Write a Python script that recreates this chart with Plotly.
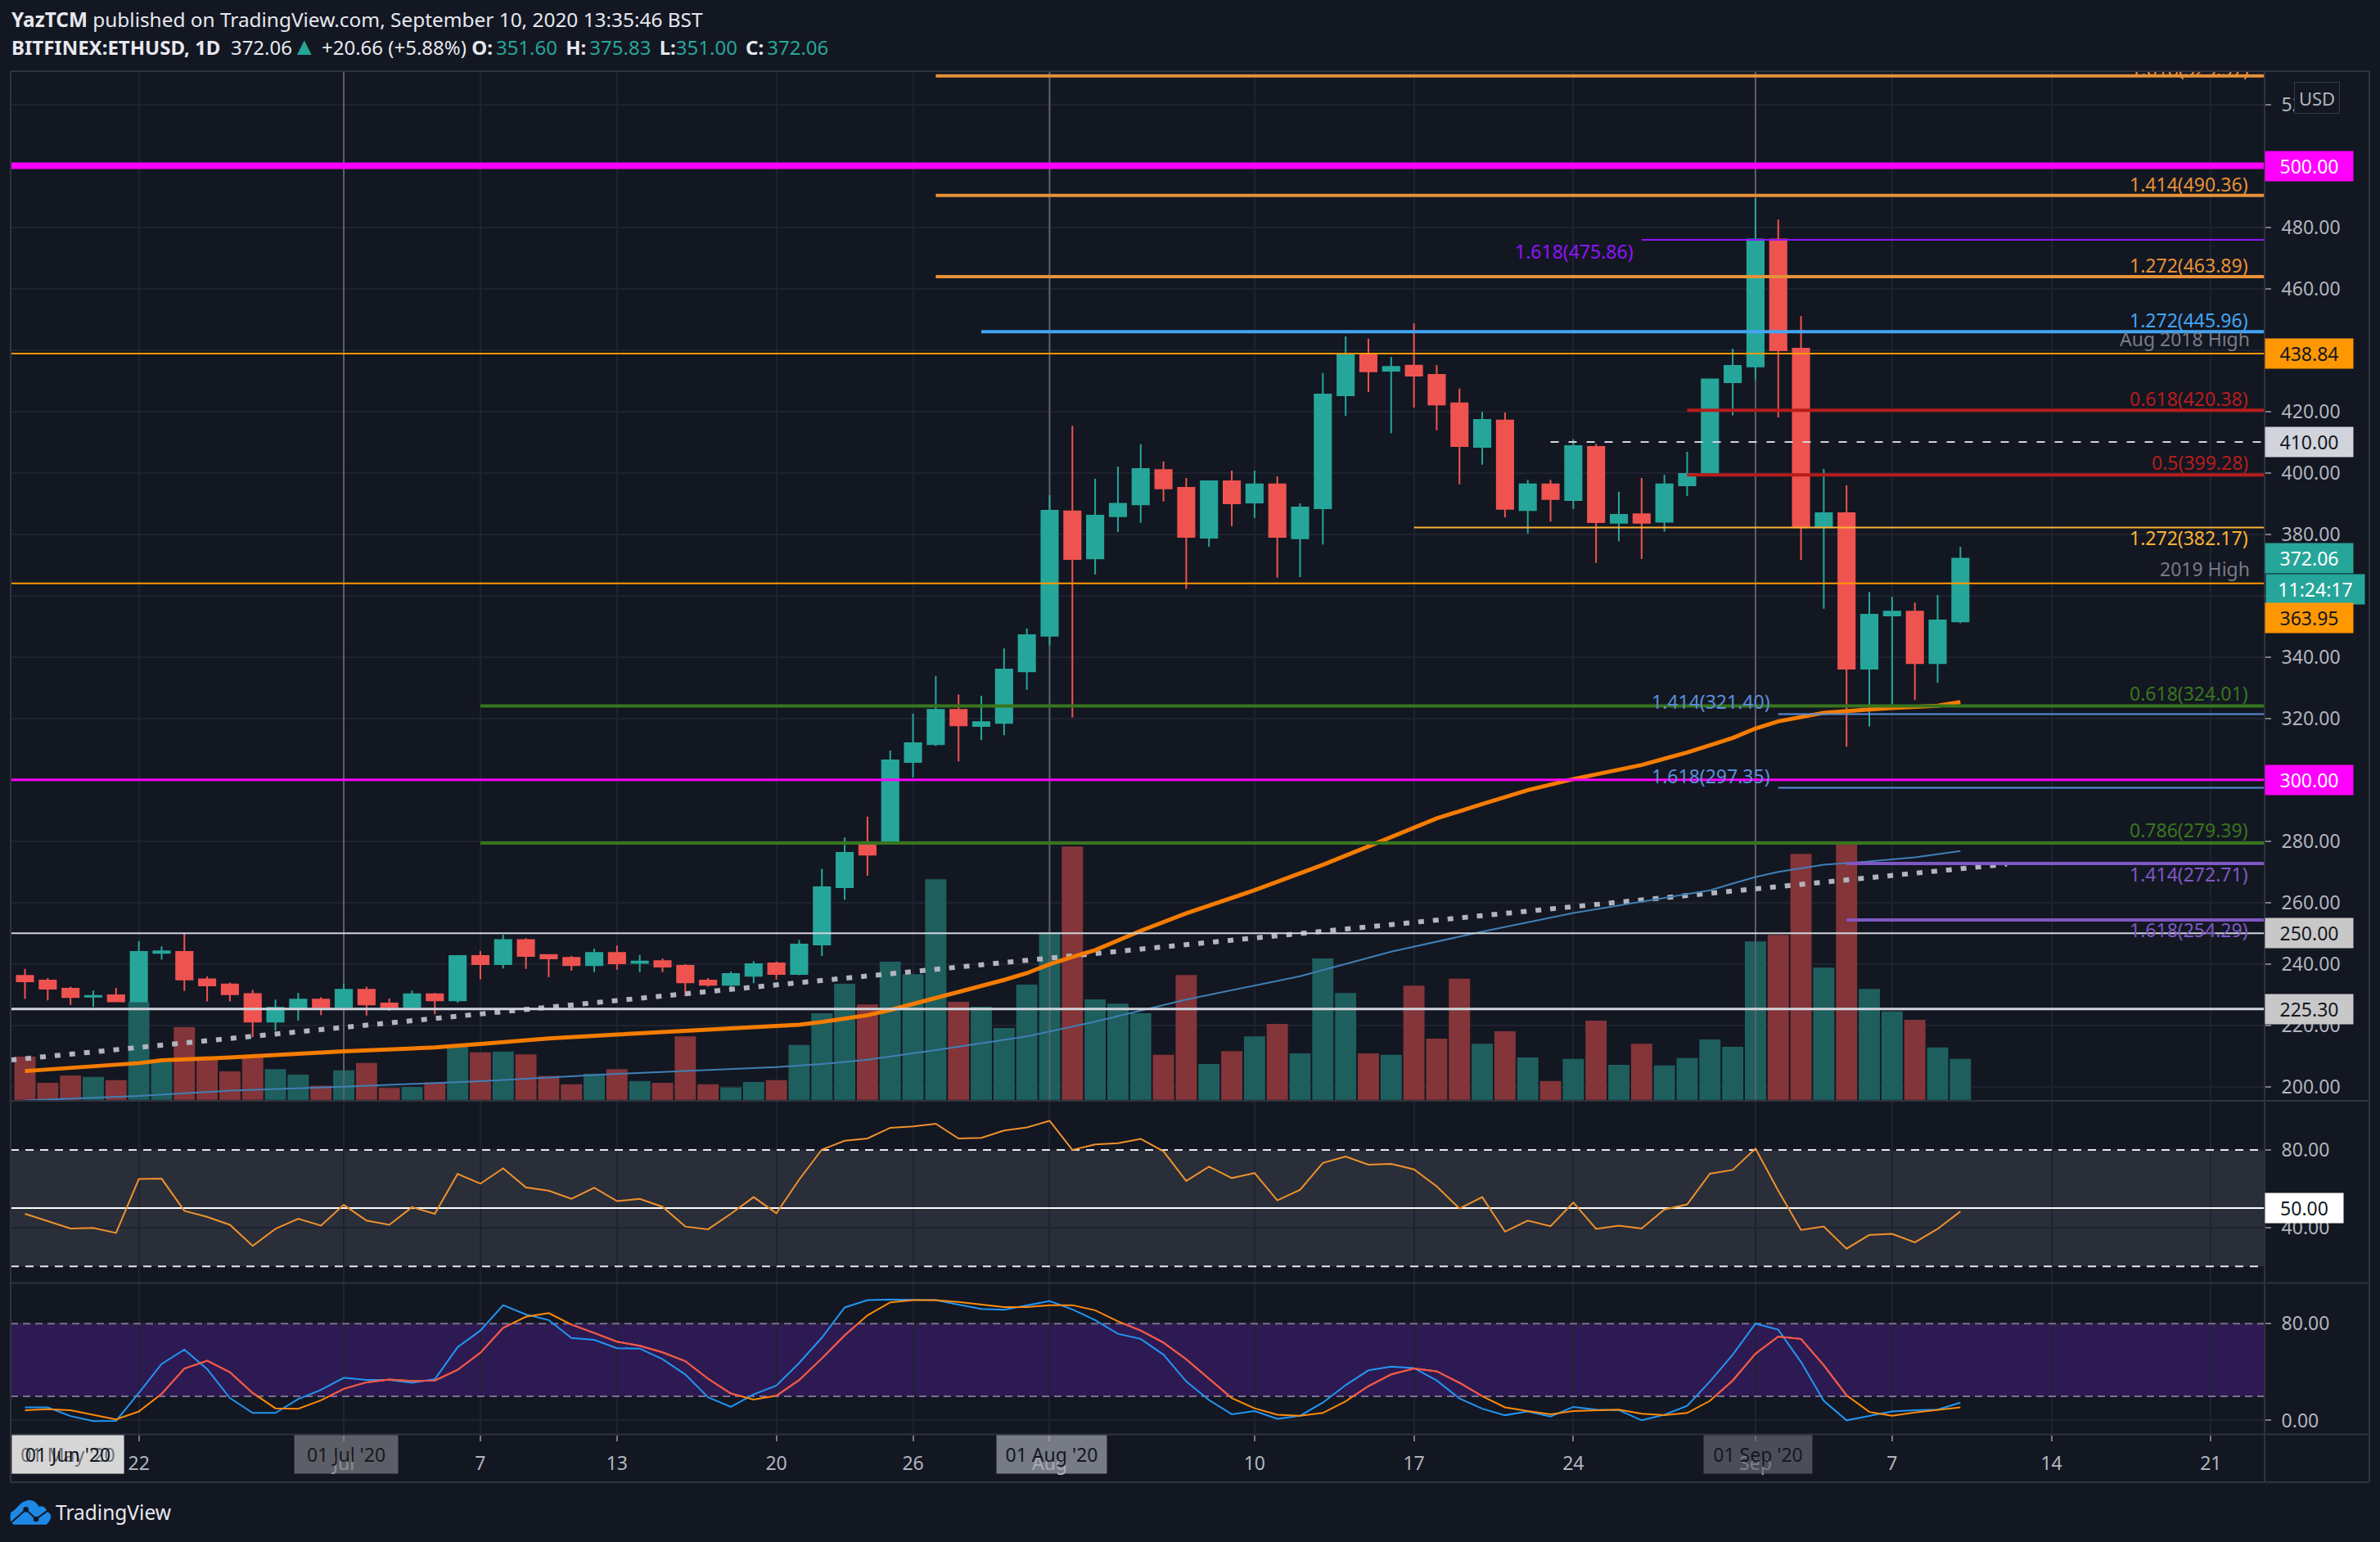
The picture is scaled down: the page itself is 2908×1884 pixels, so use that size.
import numpy as np
import pandas as pd
import plotly.graph_objects as go

W, H = 2908, 1884

# ---------- data ----------
dates = pd.date_range("2020-06-17", periods=86).strftime("%Y-%m-%d").tolist()
opens = [236.1,234.6,231.9,229.3,229.8,227.8,243.6,243.9,235.0,233.3,230.2,221.2,225.4,228.4,
 226.0,231.6,227.1,226.0,230.1,228.1,242.6,239.9,247.8,242.9,242.0,239.6,243.6,240.3,240.9,239.4,234.6,233.2,236.1,240.2,236.7,246.3,265.0,279.5,280.0,305.8,311.6,322.8,317.5,318.5,335.3,
 346.9,387.4,372.1,385.8,389.7,400.9,395.1,378.8,397.2,390.3,396.2,378.6,388.4,425.2,438.6,433.2,434.9,431.9,422.6,408.4,417.0,387.8,396.2,391.1,408.4,383.7,386.5,384.0,395.9,400.0,429.5,
 434.6,476.0,440.4,382.2,386.8,336.2,353.5,354.8,338.0,351.6]
highs = [238.4,235.4,232.6,231.3,232.2,247.4,245.7,250.2,235.9,233.9,231.5,228.4,230.5,229.2,
 233.6,232.6,228.7,231.3,230.5,242.9,244.2,249.5,248.4,243.0,242.6,245.0,246.0,242.9,241.8,239.9,235.4,237.5,240.9,240.8,247.8,271.0,281.2,288.0,309.5,321.5,333.8,327.8,327.4,342.8,349.3,
 392.7,415.3,398.0,402.0,409.3,403.7,398.3,397.2,400.7,400.7,398.8,390.0,432.5,444.4,443.7,437.7,448.7,435.1,427.4,419.9,419.6,397.7,397.7,410.9,409.4,393.8,398.3,399.3,406.8,430.4,440.4,
 489.4,482.5,451.0,401.2,395.9,361.2,359.6,357.7,360.2,375.83]
lows = [228.6,228.1,226.6,226.0,227.5,227.5,241.4,231.2,227.8,227.8,216.1,218.2,221.5,223.3,
 225.7,223.2,224.7,225.0,223.6,227.4,235.0,238.5,238.4,235.7,237.8,237.3,238.1,237.3,237.3,229.5,232.6,232.3,233.7,234.9,236.3,242.6,260.9,268.7,280.0,300.7,311.0,306.0,312.9,314.5,329.3,
 343.8,320.3,366.9,380.7,383.7,390.6,362.2,375.9,382.6,385.2,365.8,366.0,376.6,418.5,426.3,412.9,421.2,413.8,396.2,402.6,385.5,380.2,384.1,388.2,370.6,377.7,371.9,380.8,392.4,400.0,418.7,
 430.4,418.0,371.6,355.7,310.8,317.3,324.5,326.0,331.6,351.0]
closes = [234.3,231.9,229.2,229.6,227.8,243.9,244.1,234.9,233.0,230.1,221.2,225.7,228.4,226.0,
 231.6,226.8,226.0,230.1,228.1,242.6,239.9,247.8,242.6,241.8,239.6,243.6,240.2,240.8,239.1,234.0,233.2,236.7,239.9,236.7,246.3,265.0,276.2,275.6,306.3,311.9,322.8,317.7,318.8,335.9,347.1,
 387.6,371.9,386.0,389.9,401.2,394.9,379.1,397.2,390.0,396.2,379.1,388.7,425.5,438.6,433.0,434.5,431.6,422.2,408.7,417.2,388.2,396.2,391.4,408.7,383.9,386.3,383.7,396.2,399.6,430.4,434.8,
 476.0,439.9,382.2,386.8,336.2,353.8,354.8,338.0,351.9,372.06]
volumes = [94,37,53,50,43,213,82,158,91,62,97,67,55,31,64,80,26,28,38,115,103,105,99,52,34,57,67,41,37,138,34,27,39,43,119,188,
 252,207,300,273,479,213,202,156,250,364,550,218,209,188,98,271,78,106,138,165,101,307,232,101,98,248,133,263,122,149,92,41,89,172,76,122,75,91,131,115,
 344,358,534,287,557,241,192,174,114,89]
rsi = [47.1,43.3,39.5,39.8,37.2,65.0,65.2,48.6,45.5,41.4,30.5,39.3,44.5,41.0,51.7,43.6,41.4,50.5,47.1,67.6,62.6,70.5,60.7,59.0,54.8,60.5,53.6,54.8,50.7,40.5,39.1,47.1,55.7,47.4,64.7,80.2,84.7,85.9,91.4,92.1,93.5,85.9,86.2,90.0,91.6,
 95.0,80.0,82.8,83.5,85.7,79.3,64.0,71.4,65.5,68.1,54.0,59.5,73.3,76.6,72.4,72.8,70.0,61.2,49.8,55.7,37.9,43.6,40.7,52.9,39.3,41.0,39.5,49.3,51.9,67.8,69.7,
 80.7,59.0,38.8,40.5,29.1,36.2,36.7,32.4,39.3,48.3]
stoch_k = [10.8,10.8,3.6,-0.6,-0.3,22.7,46.7,58.6,42.5,18.5,6.2,6.2,17.7,25.3,35.3,33.4,33.4,31.1,34.1,60.5,74.3,95.3,87.6,83.0,68.1,66.6,59.7,59.4,50.6,38.0,19.2,11.2,21.5,28.8,47.5,68.5,93.4,99.5,99.9,99.5,99.5,95.7,92.2,91.5,94.9,
 98.7,91.8,83.0,71.6,67.4,54.4,32.2,16.9,5.1,7.8,1.3,3.9,14.7,29.2,41.4,44.5,43.3,33.0,18.1,9.7,4.3,7.4,3.2,11.2,8.9,8.5,0.1,4.7,12.0,32.2,54.4,
 80.0,75.0,48.3,16.2,0.1,3.9,7.4,8.5,8.9,14.7]
stoch_d = [8.5,9.3,8.5,4.7,0.9,7.4,21.9,42.9,49.4,39.9,22.7,10.0,9.7,16.6,26.1,31.5,33.8,32.6,33.0,41.8,55.9,76.6,85.7,88.8,79.2,72.3,65.1,61.7,56.3,49.0,34.5,22.3,17.3,20.4,33.4,51.3,70.4,86.9,97.6,99.5,99.5,98.0,96.0,93.7,93.7,
 95.3,95.3,91.1,81.9,74.3,64.3,50.6,34.5,18.5,10.0,4.7,3.9,6.2,15.8,28.4,38.0,42.9,40.6,31.1,20.0,10.8,7.8,5.1,7.8,8.2,8.9,5.5,4.3,6.2,16.2,33.0,
 55.2,69.3,67.4,45.6,20.8,7.0,3.9,6.6,8.5,10.8]

ma_orange_dates = ["2020-06-17","2020-06-22","2020-06-23","2020-06-26","2020-07-01","2020-07-05","2020-07-07","2020-07-10","2020-07-13","2020-07-16","2020-07-20","2020-07-21","2020-07-22","2020-07-24","2020-07-25","2020-07-26","2020-07-27","2020-07-30","2020-07-31","2020-08-01","2020-08-02","2020-08-03","2020-08-05","2020-08-07","2020-08-10","2020-08-12","2020-08-13","2020-08-15","2020-08-16","2020-08-17","2020-08-18","2020-08-20","2020-08-22","2020-08-24","2020-08-27","2020-08-29","2020-08-31","2020-09-01","2020-09-02","2020-09-04","2020-09-06","2020-09-07","2020-09-09","2020-09-10"]
ma_orange = [205.1,207.7,208.6,209.5,211.5,212.8,213.9,215.7,217.0,218.2,219.6,220.2,221.1,223.3,225.0,226.9,229.0,234.8,237.0,239.9,242.3,244.5,250.8,256.5,264.0,269.3,272.3,278.3,281.3,284.3,287.4,292.1,296.6,300.2,304.8,308.9,313.6,316.7,319.0,321.8,322.9,323.4,324.1,325.3]
ma_blue_dates = ["2020-06-17","2020-06-22","2020-06-26","2020-07-01","2020-07-07","2020-07-13","2020-07-20","2020-07-22","2020-07-24","2020-07-27","2020-07-31","2020-08-03","2020-08-07","2020-08-12","2020-08-16","2020-08-20","2020-08-24","2020-08-27","2020-08-29","2020-08-30","2020-08-31","2020-09-01","2020-09-02","2020-09-04","2020-09-06","2020-09-08","2020-09-10"]
ma_blue = [195.5,197.0,198.7,200.0,201.8,204.2,206.4,207.4,208.8,211.9,216.4,221.2,228.4,236.0,244.0,250.5,256.6,260.3,262.6,264.0,266.2,268.3,270.0,272.3,273.4,274.7,276.8]
trend_dates = ["2020-06-16 09:00","2020-09-12 01:00"]
trend_values = [208.7,272.5]

level_prices = [529.3,500.0,490.36,475.86,463.89,445.96,438.84,420.38,410.0,399.28,382.17,363.95,324.01,321.40,300.0,297.35,279.39,272.71,254.29,250.0,225.30]
level_starts = ["2020-07-27",None,"2020-07-27","2020-08-27","2020-07-27","2020-07-29",None,"2020-08-29","2020-08-23","2020-08-29","2020-08-17",None,"2020-07-07","2020-09-02",None,"2020-09-02","2020-07-07","2020-09-05","2020-09-05",None,None]

price_ticks = [200,220,240,260,280,300,320,340,360,380,400,420,440,460,480,500,520]
price_tick_labels = ["200.00","220.00","240.00","260.00","280.00","","320.00","340.00","","380.00","400.00","420.00","","460.00","480.00","","520.00"]
rsi_ticks = [40,80]
rsi_tick_labels = ["40.00","80.00"]
stoch_ticks = [0,80]
stoch_tick_labels = ["0.00","80.00"]
x_ticks = ["2020-06-22","2020-07-01","2020-07-07","2020-07-13","2020-07-20","2020-07-26","2020-08-01","2020-08-10","2020-08-17","2020-08-24","2020-09-01","2020-09-07","2020-09-14","2020-09-21"]
x_tick_labels = ["22","Jul","7","13","20","26","Aug","10","17","24","Sep","7","14","21"]
month_lines = ["2020-07-01","2020-08-01","2020-09-01"]

# ---------- layout constants ----------
BG = "#131722"
GRID = "#1f232f"
BORDER = "#2f333e"
FONT = "Noto Sans"
TICKC = "#b2b5be"
X_LEFT, X_RIGHT = 13, 2767
XR = ["2020-06-16 08:53", "2020-09-23 08:38"]
PANE_TOP, PANE_MAIN, PANE_RSI, PANE_ST, FRAME_B, FRAME_R = 87, 1345, 1567.6, 1752.6, 1811, 2895
VOL_MAX = 2232

def px(x): return x / W
def py(y): return 1 - y / H

fig = go.Figure()

# volume on the base axis so that candles draw above it
vol_colors = ["#1e5f5e" if c >= o else "#843539" for o, c in zip(opens, closes)]
fig.add_trace(go.Bar(x=dates, y=volumes, marker=dict(color=vol_colors, line_width=0), yaxis="y", xaxis="x", showlegend=False))
for d in month_lines:
    fig.add_trace(go.Scatter(x=[d, d], y=[0, VOL_MAX], mode="lines", line=dict(color="#5d606b", width=2), yaxis="y", showlegend=False))

# candles
fig.add_trace(go.Candlestick(x=dates, open=opens, high=highs, low=lows, close=closes, yaxis="y4", showlegend=False,
    increasing=dict(line=dict(color="#26a69a", width=2), fillcolor="#26a69a"),
    decreasing=dict(line=dict(color="#ef5350", width=2), fillcolor="#ef5350"), whiskerwidth=0))

# moving averages
fig.add_trace(go.Scatter(x=trend_dates, y=trend_values, mode="lines", line=dict(color="#b2b5be", width=6, dash="7px,11px"), yaxis="y4", showlegend=False))
fig.add_trace(go.Scatter(x=ma_blue_dates, y=ma_blue, mode="lines", line=dict(color="#3f7fb5", width=2), yaxis="y4", showlegend=False))
fig.add_trace(go.Scatter(x=ma_orange_dates, y=ma_orange, mode="lines", line=dict(color="#f57c00", width=5), yaxis="y4", showlegend=False))

# horizontal levels
level_style = [("#e69138",4,"solid"),("#ff00ff",8,"solid"),("#e69138",4,"solid"),("#8f14ff",2,"solid"),("#e69138",4,"solid"),
 ("#42a5f5",4,"solid"),("#ff9800",2,"solid"),("#b71c1c",4,"solid"),("#d1d4dc",2,"10px,12px"),("#b71c1c",4,"solid"),("#f9b233",2,"solid"),
 ("#ff9800",2,"solid"),("#38761d",4,"solid"),("#5b8fd9",2,"solid"),("#ff00ff",3,"solid"),("#5b8fd9",2,"solid"),("#38761d",4,"solid"),
 ("#7e57c2",4,"solid"),("#7e57c2",4,"solid"),("#d1d4dc",2,"solid"),("#d1d4dc",3,"solid")]
for p, s, (c, w, dsh) in zip(level_prices, level_starts, level_style):
    fig.add_trace(go.Scatter(x=[s or XR[0], XR[1]], y=[p, p], mode="lines", line=dict(color=c, width=w, dash=dsh), yaxis="y4", showlegend=False))

# top fib label, clipped by the pane
fig.add_trace(go.Scatter(x=["2020-09-22 16:00"], y=[527.6], mode="text", text=["1.618(529.57)"], textposition="top left",
    textfont=dict(color="#e69138", size=23, family=FONT), yaxis="y4", cliponaxis=True, showlegend=False))

# RSI pane
for v, dsh, lw in ((80, "10px,8px", 2), (20, "10px,8px", 2), (50, "solid", 2)):
    fig.add_trace(go.Scatter(x=XR, y=[v, v], mode="lines", line=dict(color="#e8e8e8" if v != 50 else "#ffffff", width=lw, dash=dsh), yaxis="y2", showlegend=False))
fig.add_trace(go.Scatter(x=dates, y=rsi, mode="lines", line=dict(color="#f0912c", width=2), yaxis="y2", showlegend=False))

# Stochastic pane
for v in (80, 20):
    fig.add_trace(go.Scatter(x=XR, y=[v, v], mode="lines", line=dict(color="#7d6f90", width=2, dash="9px,6px"), yaxis="y3", showlegend=False))
fig.add_trace(go.Scatter(x=dates, y=stoch_k, mode="lines", line=dict(color="#2196f3", width=2), yaxis="y3", showlegend=False))
fig.add_trace(go.Scatter(x=dates, y=stoch_d, mode="lines", line=dict(color="#ff8a0a", width=2), yaxis="y3", showlegend=False))

# part of %D inside the band is red
dn = pd.to_datetime(dates)
tx, ty = [], []
for i in range(len(stoch_d)):
    a = stoch_d[i]
    if 20 <= a <= 80:
        tx.append(dn[i]); ty.append(a)
    if i + 1 < len(stoch_d):
        b = stoch_d[i + 1]
        crossed = sorted([l for l in (20, 80) if (a - l) * (b - l) < 0], reverse=b < a)
        for l in crossed:
            tx.append(dn[i] + (dn[i + 1] - dn[i]) * ((l - a) / (b - a))); ty.append(l)
        if not crossed and not (20 <= a <= 80):
            tx.append(None); ty.append(None)
        elif crossed and not (20 <= b <= 80):
            tx.append(None); ty.append(None)
fig.add_trace(go.Scatter(x=tx, y=ty, mode="lines", line=dict(color="#ef5350", width=2), yaxis="y3", connectgaps=False, showlegend=False))

# ---------- annotations ----------
ann = []
def fib(text, level, shift, color, right=2748.5):
    ann.append(dict(text=text, x=px(right), xref="paper", xanchor="right", y=level, yref="y4", yshift=shift, showarrow=False,
                    font=dict(color=color, size=23, family=FONT)))
GRAY = "#787b86"
fib("1.414(490.36)", 490.36, 14, "#e69138")
fib("1.272(463.89)", 463.89, 14, "#e69138")
fib("1.272(445.96)", 445.96, 14.5, "#42a5f5")
fib("Aug 2018 High", 438.84, 18, GRAY, 2751)
fib("0.618(420.38)", 420.38, 14.5, "#b71c1c")
fib("0.5(399.28)", 399.28, 15, "#b71c1c")
fib("1.272(382.17)", 382.17, -13, "#f9b233")
fib("2019 High", 363.95, 18, GRAY, 2751)
fib("0.618(324.01)", 324.01, 15.6, "#38761d")
fib("1.414(321.40)", 321.40, 15.4, "#5b8fd9", 2165)
fib("1.618(297.35)", 297.35, 14.5, "#5b8fd9", 2165)
fib("1.618(475.86)", 475.86, -13.6, "#8f14ff", 1998)
fib("0.786(279.39)", 279.39, 16, "#38761d")
fib("1.414(272.71)", 272.71, -12.6, "#7e57c2")
fib("1.618(254.29)", 254.29, -12, "#7e57c2")

def box(text, y, yref, bg, fg, width=105, shift=0, left=2767):
    ann.append(dict(text=text, x=px(left), xref="paper", xanchor="left", y=y, yref=yref, yanchor="middle", yshift=shift, showarrow=False,
                    width=width, height=34, align="center", valign="middle", bgcolor=bg, borderpad=1,
                    font=dict(color=fg, size=23, family=FONT)))
box("500.00", 500, "y4", "#ff00ff", "#ffffff")
box("438.84", 438.84, "y4", "#ff9800", "#131722")
box("410.00", 410, "y4", "#d1d4dc", "#131722")
box("372.06", 372.06, "y4", "#26a69a", "#ffffff")
box("11:24:17", 372.06, "y4", "#26a69a", "#ffffff", width=118, shift=-37.5, left=2768)
box("363.95", 363.95, "y4", "#ff9800", "#131722", shift=-42)
box("300.00", 300, "y4", "#ff00ff", "#ffffff")
box("250.00", 250, "y4", "#c8c8c8", "#131722")
box("225.30", 225.3, "y4", "#c8c8c8", "#131722")
box("50.00", 50, "y2", "#ffffff", "#131722", width=93)
ann.append(dict(text="USD", x=px(2803), xref="paper", xanchor="left", y=py(119.5), yref="paper", yanchor="middle", showarrow=False,
                width=52, height=35, bgcolor=BG, bordercolor="#363a45", borderwidth=1, font=dict(color=TICKC, size=22, family=FONT)))

def month(text, x0, x1, bg, fg):
    ann.append(dict(text=text, x=px(x0), xref="paper", xanchor="left", y=py(1777), yref="paper", yanchor="middle", showarrow=False,
                    width=x1 - x0, height=44, bgcolor=bg, font=dict(color=fg, size=23, family=FONT), borderpad=1))
month("01 May '20", 14, 148, "#d6d6d6", "#3a3d46")
month("01 Jun '20", 14, 148, "rgba(214,214,214,0.35)", "#131722")
month("01 Jul '20", 359, 483, "rgba(126,127,134,0.7)", "#17191f")
month("01 Aug '20", 1217, 1349, "rgba(163,166,177,0.7)", "#131722")
month("01 Sep '20", 2081, 2211, "rgba(100,103,111,0.7)", "#131722")

# header
T = "#26a69a"
hdr1 = "<b>YazTCM</b> published on TradingView.com, September 10, 2020 13:35:46 BST"
hdr2 = ("<b>BITFINEX:ETHUSD, 1D</b>  372.06<span style='color:%s;font-size:30px'>▲</span> +20.66 (+5.88%%) <b>O:</b>\u2009<span style='color:%s'>351.60</span>\u2009 "
        "<b>H:</b>\u2009<span style='color:%s'>375.83</span>\u2009 <b>L:</b><span style='color:%s'>351.00</span>\u2009 <b>C:</b>\u2009<span style='color:%s'>372.06</span>") % (T, T, T, T, T)
for t, y, s in ((hdr1, 24, 24.4), (hdr2, 56, 24)):
    ann.append(dict(text=t, x=px(12), xref="paper", xanchor="left", y=py(y), yref="paper", yanchor="middle", showarrow=False,
                    font=dict(color="#e6e8ee", size=s, family=FONT)))
ann.append(dict(text="TradingView", x=px(66), xref="paper", xanchor="left", y=py(1847), yref="paper", yanchor="middle", showarrow=False,
                font=dict(color="#e6e8ee", size=24.5, family=FONT)))

# ---------- chrome shapes ----------
shapes = []
def rect(x0, y0, x1, y1, fill, yref="paper", layer="below"):
    shapes.append(dict(type="rect", xref="paper", yref=yref, x0=px(x0), x1=px(x1), y0=y0, y1=y1, fillcolor=fill, line_width=0, layer=layer))
rect(X_LEFT, 20, X_RIGHT, 80, "#2a2e39", "y2")
rect(X_LEFT, 20, X_RIGHT, 80, "#2e1a52", "y3")
def hline(y, x0=X_LEFT, x1=FRAME_R):
    shapes.append(dict(type="line", xref="paper", yref="paper", x0=px(x0), x1=px(x1), y0=py(y), y1=py(y), line=dict(color=BORDER, width=2), layer="above"))
def vline(x, y0=PANE_TOP, y1=FRAME_B):
    shapes.append(dict(type="line", xref="paper", yref="paper", x0=px(x), x1=px(x), y0=py(y0), y1=py(y1), line=dict(color=BORDER, width=2), layer="above"))
for y in (PANE_TOP, PANE_MAIN, PANE_RSI, PANE_ST, FRAME_B):
    hline(y)
for x in (X_LEFT, X_RIGHT, FRAME_R):
    vline(x)

def logo(z):  # zoom-crop coordinates to paper
    return "%.5f,%.5f" % (px(z[0] / 3), py(1810 + z[1] / 3))
cloud = [(50,158),(36,150),(36,132),(40,112),(62,105),(72,70),(108,68),(132,70),(142,92),(165,85),(172,110),(192,118),(192,138),(190,158),(170,158)]
path = "M" + logo(cloud[0]) + "C" + logo(cloud[1]) + " " + logo(cloud[2]) + " " + logo(cloud[3]) + \
       "C" + logo(cloud[4]) + " " + logo(cloud[5]) + " " + logo(cloud[6]) + "Q" + logo(cloud[7]) + " " + logo(cloud[8]) + \
       "Q" + logo(cloud[9]) + " " + logo(cloud[10]) + "C" + logo(cloud[11]) + " " + logo(cloud[12]) + " " + logo(cloud[14]) + "Z"
shapes.append(dict(type="path", xref="paper", yref="paper", path=path, fillcolor="#1e88e5", line_width=0, layer="above"))
shapes.append(dict(type="path", xref="paper", yref="paper", path="M" + logo((42,150)) + "L" + logo((95,103)) + "L" + logo((132,138)) + "L" + logo((180,103)),
                   line=dict(color=BG, width=2), layer="above"))
for cx, cy in ((95,103),(132,138)):
    r = 10
    shapes.append(dict(type="circle", xref="paper", yref="paper", x0=px((cx-r)/3), x1=px((cx+r)/3), y0=py(1810+(cy+r)/3), y1=py(1810+(cy-r)/3),
                       fillcolor=BG, line_width=0, layer="above"))

# ---------- axes ----------
def yax(dom, rng, ticks, labels, **kw):
    d = dict(domain=[py(dom[1]), py(dom[0])], range=rng, side="right", tickmode="array", tickvals=ticks, ticktext=labels,
             showgrid=True, gridcolor=GRID, gridwidth=2, zeroline=False, showline=False, ticks="outside", ticklen=7, tickwidth=2,
             tickcolor="#787b86", tickfont=dict(color=TICKC, size=23, family=FONT), ticklabelstandoff=8, anchor="x", fixedrange=True)
    d.update(kw)
    return d

PRICE_RNG = [195.4, 530.8]
fig.update_layout(
    width=W, height=H, margin=dict(l=0, r=0, t=0, b=0), paper_bgcolor=BG, plot_bgcolor=BG,
    font=dict(family=FONT), showlegend=False, bargap=0.07, boxgap=0.15, boxgroupgap=0.15, boxmode="overlay",
    xaxis=dict(domain=[px(X_LEFT), px(X_RIGHT)], range=XR, type="date", anchor="y3", rangeslider=dict(visible=False),
               tickmode="array", tickvals=x_ticks, ticktext=x_tick_labels, showgrid=True, gridcolor=GRID, gridwidth=2, zeroline=False,
               ticks="outside", ticklen=7, tickwidth=2, tickcolor="#787b86", tickfont=dict(color=TICKC, size=23, family=FONT),
               ticklabelstandoff=8, showline=False, fixedrange=True),
    yaxis=dict(domain=[py(PANE_MAIN), py(PANE_TOP)], range=[-2, VOL_MAX], visible=False, anchor="x", fixedrange=True, showgrid=False),
    yaxis4=yax((PANE_TOP, PANE_MAIN), PRICE_RNG, price_ticks, price_tick_labels, overlaying="y"),
    yaxis2=yax((PANE_MAIN, PANE_RSI), [11.4, 105.3], rsi_ticks, rsi_tick_labels),
    yaxis3=yax((PANE_RSI, PANE_ST), [-11.6, 113.6], stoch_ticks, stoch_tick_labels),
    annotations=ann, shapes=shapes,
)
fig.write_html("out.html", config=dict(displayModeBar=False),
               post_script="document.body.style.margin='0';document.body.style.overflow='hidden';")
